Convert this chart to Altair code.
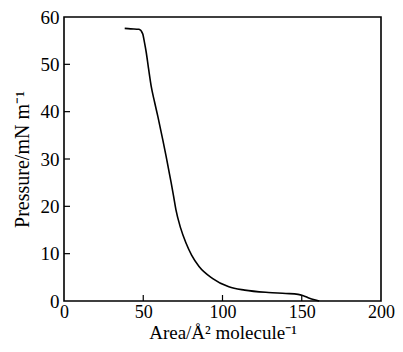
import altair as alt
import pandas as pd

# Isotherm data (Area in Å²/molecule, Pressure in mN/m)
area = [38.3, 42.0, 47.3, 49.6, 50.8, 51.9, 53.3, 55.0, 57.1, 59.2, 62.3, 64.4,
        66.0, 67.6, 69.1, 70.6, 73.5, 76.9, 80.5, 85.2, 93.6, 104.0, 114.0, 129.0,
        140.0, 147.7, 151.0, 154.0, 158.0, 161.0]
pressure = [57.6, 57.5, 57.4, 56.5, 54.6, 52.5, 49.2, 45.4, 42.1, 39.0, 34.1, 30.6,
            27.8, 25.0, 22.2, 19.3, 15.5, 12.3, 9.7, 7.3, 4.8, 3.0, 2.3, 1.8,
            1.6, 1.4, 1.1, 0.7, 0.25, 0.0]

x_labels = [0, 50, 100, 150, 200]
y_labels = [0, 10, 20, 30, 40, 50, 60]
x_inner_ticks = [50, 100, 150]
y_inner_ticks = [10, 20, 30, 40, 50]

W, H = 317, 284
FONT = "Liberation Serif"

df = pd.DataFrame({"area": area, "pressure": pressure})
xs = alt.Scale(domain=[0, 200], nice=False)
ys = alt.Scale(domain=[0, 60], nice=False)

line = alt.Chart(df).mark_line(color="black", strokeWidth=1.6, interpolate="monotone").encode(
    x=alt.X("area:Q", scale=xs,
            axis=alt.Axis(title="Area/Å² molecule⁻¹", values=x_labels, ticks=False,
                          domain=False, grid=False, labelPadding=2, titlePadding=2,
                          labelFlush=False, labelOverlap=False)),
    y=alt.Y("pressure:Q", scale=ys,
            axis=alt.Axis(title="Pressure/mN m⁻¹", values=y_labels, ticks=False,
                          domain=False, grid=False, labelPadding=5, titlePadding=8,
                          labelFlush=False, labelOverlap=False)),
)

xt = alt.Chart(pd.DataFrame({"area": x_inner_ticks})).mark_rule(
    color="black", strokeWidth=1.2).encode(
    x=alt.X("area:Q", scale=xs), y=alt.value(H), y2=alt.value(H - 6))

yt = alt.Chart(pd.DataFrame({"pressure": y_inner_ticks})).mark_rule(
    color="black", strokeWidth=1.2).encode(
    y=alt.Y("pressure:Q", scale=ys), x=alt.value(0), x2=alt.value(6))

chart = alt.layer(line, xt, yt).properties(
    width=W, height=H,
    autosize=alt.AutoSizeParams(type="none"),
    padding={"left": 56, "top": 9, "right": 14, "bottom": 43},
).configure_view(
    stroke="black", strokeWidth=1.6
).configure_axis(
    labelFont=FONT, titleFont=FONT,
    labelColor="black", titleColor="black", titleFontWeight="normal"
).configure_axisX(
    labelFontSize=18, titleFontSize=19
).configure_axisY(
    labelFontSize=19, titleFontSize=20
)

chart.save("out.html", embed_options={"renderer": "svg", "actions": False})
